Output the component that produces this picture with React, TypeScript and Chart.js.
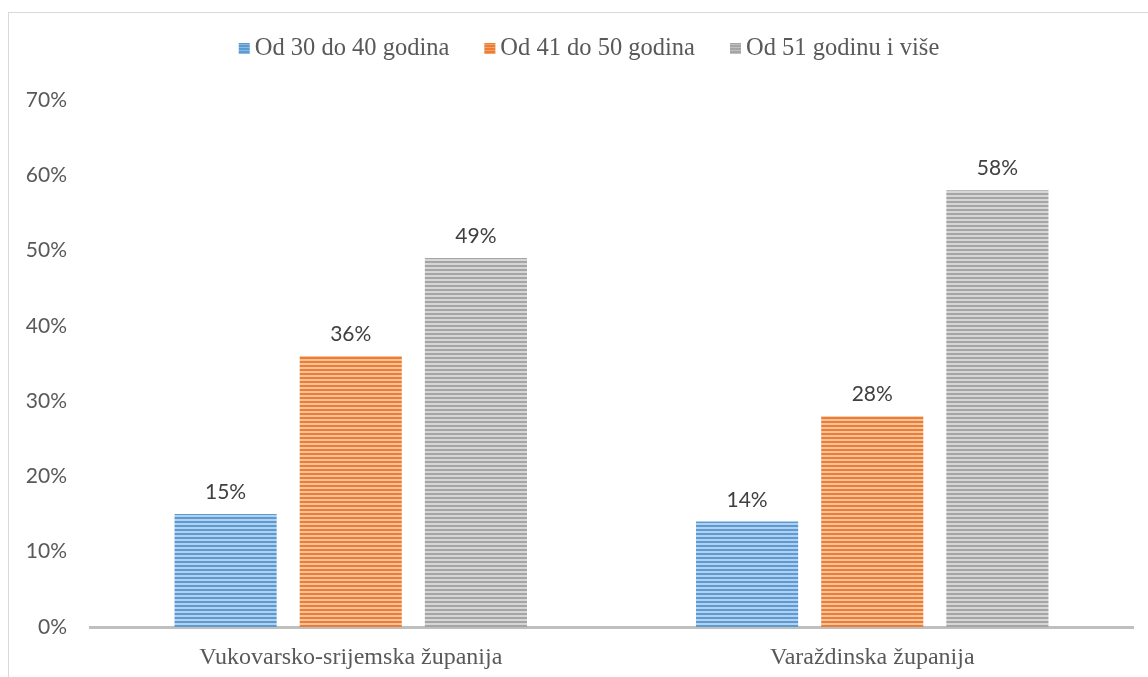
import React, { useEffect, useRef } from "react";
import { Chart, registerables } from "chart.js";

Chart.register(...registerables);

const categories = ["Vukovarsko-srijemska županija", "Varaždinska županija"];
const seriesNames = ["Od 30 do 40 godina", "Od 41 do 50 godina", "Od 51 godinu i više"];
const series30to40 = [15, 14];
const series41to50 = [36, 28];
const series51plus = [49, 58];
const yTicks = [0, 10, 20, 30, 40, 50, 60, 70];

const colors = ["#5B9BD5", "#ED7D31", "#A5A5A5"];
const lightColors = ["#B4D0EC", "#F6C2A0", "#D6D6D6"];

function makePattern(color: string, light: string): CanvasPattern | string {
  const c = document.createElement("canvas");
  c.width = 8;
  c.height = 4;
  const g = c.getContext("2d");
  if (!g) return color;
  g.fillStyle = light;
  g.fillRect(0, 0, 8, 4);
  g.fillStyle = color;
  g.fillRect(0, 0, 8, 2);
  const p = g.createPattern(c, "repeat");
  return p || color;
}

const SANS = "Lato, 'Open Sans', sans-serif";
const SERIF = "'Liberation Serif', 'Times New Roman', serif";

export default function App() {
  const ref = useRef<HTMLCanvasElement | null>(null);

  useEffect(() => {
    const canvas = ref.current;
    if (!canvas) return;
    const patterns = colors.map((c, i) => makePattern(c, lightColors[i]));
    const values = [series30to40, series41to50, series51plus];

    const dataLabels = {
      id: "dataLabels",
      afterDatasetsDraw(chart: any) {
        const ctx = chart.ctx;
        ctx.save();
        ctx.font = `21px ${SANS}`;
        ctx.fillStyle = "#404040";
        ctx.textAlign = "center";
        ctx.textBaseline = "alphabetic";
        chart.data.datasets.forEach((ds: any, di: number) => {
          const meta = chart.getDatasetMeta(di);
          meta.data.forEach((el: any, i: number) => {
            ctx.fillText(`${ds.data[i]}%`, el.x, el.y - 15);
          });
        });
        ctx.restore();
      },
    };

    const customLegend = {
      id: "customLegend",
      afterDraw(chart: any) {
        const ctx = chart.ctx;
        ctx.save();
        ctx.font = `24.5px ${SERIF}`;
        const box = 11;
        const gapBoxText = 5;
        const gapItems = 35;
        const widths = seriesNames.map((n) => ctx.measureText(n).width);
        const total =
          widths.reduce((a, b) => a + b, 0) +
          seriesNames.length * (box + gapBoxText) +
          gapItems * (seriesNames.length - 1);
        let x = chart.width / 2 + 10 - total / 2;
        const y = 35;
        seriesNames.forEach((n, i) => {
          ctx.fillStyle = colors[i];
          ctx.fillRect(x, y - 5, box, box);
          ctx.fillStyle = "rgba(255,255,255,0.3)";
          for (let k = 1; k < box; k += 3) ctx.fillRect(x, y - 5 + k, box, 1);
          x += box + gapBoxText;
          ctx.fillStyle = "#595959";
          ctx.textAlign = "left";
          ctx.textBaseline = "middle";
          ctx.fillText(n, x, y + 1);
          x += widths[i] + gapItems;
        });
        ctx.restore();
      },
    };

    const chart = new Chart(canvas, {
      type: "bar",
      data: {
        labels: categories,
        datasets: seriesNames.map((name, i) => ({
          label: name,
          data: values[i],
          backgroundColor: patterns[i] as any,
          borderWidth: 0,
          categoryPercentage: 0.72,
          barPercentage: 0.816,
        })),
      },
      options: {
        animation: false,
        responsive: false,
        devicePixelRatio: 1,
        layout: { padding: { top: 87, right: 16, left: 0, bottom: 0 } },
        plugins: {
          legend: { display: false },
          tooltip: { enabled: false },
        },
        scales: {
          x: {
            grid: { display: false, drawTicks: false },
            border: { display: true, color: "#BFBFBF", width: 3 },
            ticks: {
              font: { family: SERIF, size: 24 },
              color: "#595959",
              padding: 16,
            },
            afterFit(scale: any) {
              scale.height = 50;
            },
          },
          y: {
            min: 0,
            max: 70,
            grid: { display: false, drawTicks: false },
            border: { display: false },
            afterBuildTicks(scale: any) {
              scale.ticks = yTicks.map((v) => ({ value: v }));
            },
            ticks: {
              font: { family: SANS, size: 21 },
              color: "#595959",
              padding: 23,
              callback: (v: any) => `${v}%`,
            },
            afterFit(scale: any) {
              scale.width = 81;
            },
          },
        },
      },
      plugins: [dataLabels, customLegend],
    });
    return () => chart.destroy();
  }, []);

  return (
    <div
      style={{
        position: "fixed",
        left: 8,
        top: 12,
        width: 1142,
        height: 666,
        boxSizing: "border-box",
        border: "1px solid #D9D9D9",
        background: "#fff",
      }}
    >
      <canvas ref={ref} width={1140} height={664} style={{ display: "block" }} />
    </div>
  );
}
